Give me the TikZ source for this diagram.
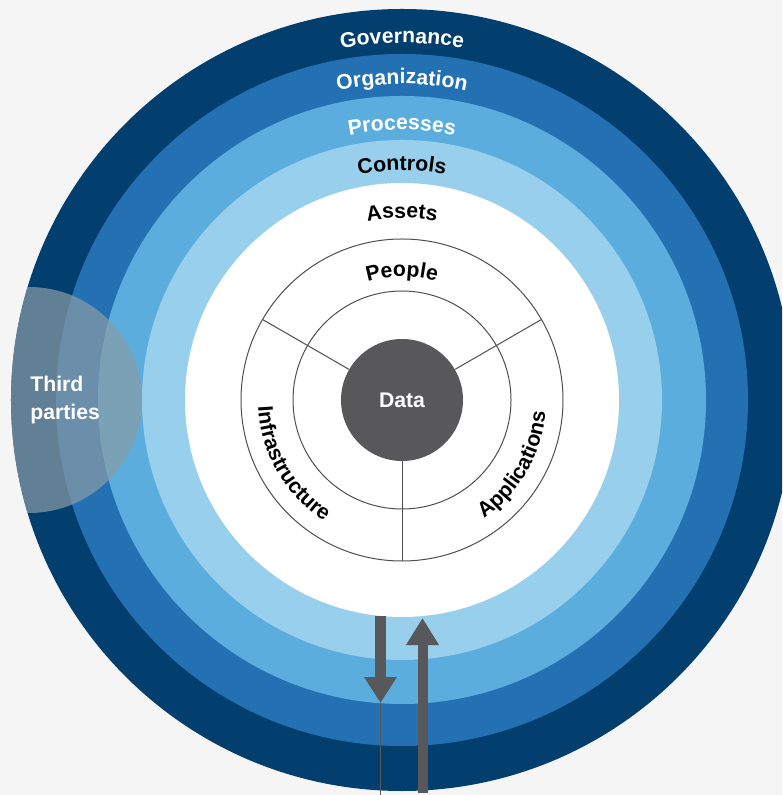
\documentclass[tikz,border=0pt]{standalone}
\usepackage{fontspec}
\setmainfont{Liberation Sans}
\setsansfont{Liberation Sans}
\usetikzlibrary{decorations.text,arrows.meta}

\definecolor{bgcol}{HTML}{F5F5F5}
\definecolor{ringgov}{HTML}{023F6F}
\definecolor{ringorg}{HTML}{2371B3}
\definecolor{ringproc}{HTML}{5BADDE}
\definecolor{ringctrl}{HTML}{98CFEC}
\definecolor{coregray}{HTML}{58585A}
\definecolor{linegray}{HTML}{4F4F4F}
\definecolor{partyfill}{RGB}{138,156,167}

\newcommand\lblfont{\fontsize{10.6pt}{12pt}\selectfont\bfseries}

\begin{document}
\begin{tikzpicture}[x=0.5pt,y=0.5pt,
  thinline/.style={draw=linegray,line width=0.5pt},
  arclabel/.style={decorate,decoration={text along path,text align=center}},
  flowarrow/.style={draw=coregray,line width=#1},
  plainlabel/.style={inner sep=0pt,font=\lblfont,text=white}]

% canvas
\useasboundingbox (-402,-395) rectangle (380,400);
\clip (-402,-395) rectangle (380,400);
\fill[bgcol] (-402,-395) rectangle (380,400);

% concentric layers
\fill[ringgov]  (0,0) circle[radius=391];
\fill[ringorg]  (0,0) circle[radius=346];
\fill[ringproc] (0,0) circle[radius=304];
\fill[ringctrl] (0,0) circle[radius=260];
\fill[white]    (0,0) circle[radius=217];

% third parties overlay, kept inside the outer layer
\begin{scope}
  \clip (0,0) circle[radius=391];
  \fill[partyfill,opacity=0.7] (-373,0) circle[radius=113];
\end{scope}
\node[plainlabel,anchor=base west] (tp1) at (-372,8) {Third};
\node[plainlabel,anchor=base west] (tp2) at (-372,-20) {parties};

% asset wheel
\draw[thinline] (0,0) circle[radius=161];
\draw[thinline] (0,0) circle[radius=109];
\node[circle,fill=coregray,minimum size=61pt,inner sep=0pt,
      font=\lblfont,text=white] (data) at (0,0) {Data};
\coordinate (sp1) at (150:161);
\coordinate (sp2) at (30:161);
\coordinate (sp3) at (270:161);
\draw[thinline] (data.150) -- (sp1);
\draw[thinline] (data.30)  -- (sp2);
\draw[thinline] (data.270) -- (sp3);

% layer names along the arcs
\path[arclabel,decoration={text color=white,text={|\lblfont|Governance}}]
  (125:357) arc[start angle=125,end angle=55,radius=357];
\path[arclabel,decoration={text color=white,text={|\lblfont|Organization}}]
  (125:316) arc[start angle=125,end angle=55,radius=316];
\path[arclabel,decoration={text color=white,text={|\lblfont|Processes}}]
  (125:270) arc[start angle=125,end angle=55,radius=270];
\path[arclabel,decoration={text color=black,text={|\lblfont|Controls}}]
  (130:229.5) arc[start angle=130,end angle=50,radius=229.5];
\path[arclabel,decoration={text color=black,text={|\lblfont|Assets}}]
  (135:182) arc[start angle=135,end angle=45,radius=182];
\path[arclabel,decoration={text color=black,text={|\lblfont|People}}]
  (140:123.5) arc[start angle=140,end angle=40,radius=123.5];
\path[arclabel,decoration={text color=black,text={|\lblfont|Infrastructure}}]
  (160:144) arc[start angle=160,end angle=260,radius=144];
\path[arclabel,decoration={text color=black,text={|\lblfont|Applications}}]
  (280:144) arc[start angle=280,end angle=380,radius=144];

% inbound and outbound flows
\coordinate (outTop) at (-21.5,-216);
\coordinate (outTip) at (-21.5,-303);
\coordinate (outEnd) at (-21.5,-395);
\coordinate (inBase) at (20.5,-393);
\coordinate (inTip)  at (20.5,-218);
\draw[flowarrow=5.5pt,-{Triangle[width=15.5pt,length=13pt]}] (outTop) -- (outTip);
\draw[flowarrow=0.5pt] (outTip) -- (outEnd);
\draw[flowarrow=5pt,-{Triangle[width=15.5pt,length=13.5pt]}] (inBase) -- (inTip);

\end{tikzpicture}
\end{document}
